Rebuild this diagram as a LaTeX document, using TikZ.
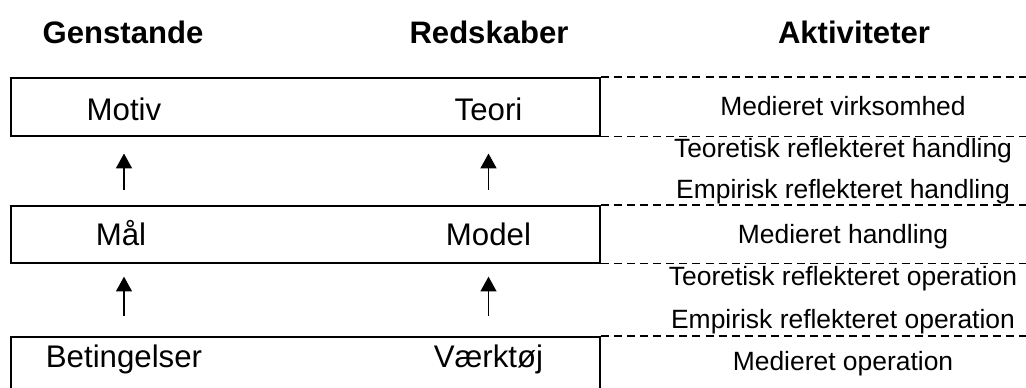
\documentclass[tikz,border=0pt]{standalone}
\usepackage{fontspec}
\setmainfont{Liberation Sans}
\usetikzlibrary{arrows.meta}
\tikzset{
	level/.style={draw, line width=1.2pt, minimum width=14.725cm, inner sep=0pt},
	sepline/.style={dash pattern=on 5.7pt off 3.6pt, line width=1.1pt},
	uparrow/.style={-{Triangle[width=0.4cm 0 0,length=0.37cm 0 0]}, line width=1pt},
	head/.style={anchor=base, font=\fontsize{22.1}{24}\selectfont\bfseries},
	item/.style={anchor=base, font=\fontsize{22.2}{24}\selectfont},
	act/.style={anchor=base, font=\fontsize{18.8}{20}\selectfont}
}

\begin{document}
\begin{tikzpicture}[x=0.025cm, y=-0.025cm]
	% 1 unit = 1 pixel of the 1026 x 388 frame
	\clip (0,0) rectangle (1026,388);
	
	% column headings
	\node[head] (genstande) at (123,43.5) {Genstande};
	\node[head] (redskaber) at (489,43.5) {Redskaber};
	\node[head] (aktiviteter) at (854,43.5) {Aktiviteter};
	
	% the three levels
	\node[level, minimum height=1.45cm] (upper) at (305.5,106.7) {};
	\node[level, minimum height=1.42cm] (mid) at (305.5,234.4) {};
	\node[level, minimum height=1.8cm] (lower) at (305.5,372.7) {};
	
	\node[item] (motiv) at (124,120) {Motiv};
	\node[item] (teori) at (488.5,120) {Teori};
	\node[item] (maal) at (121,245) {Mål};
	\node[item] (model) at (488.5,245) {Model};
	\node[item] (betingelser) at (124,367) {Betingelser};
	\node[item] (vaerktoej) at (488.5,367) {Værktøj};
	
	% arrows between the levels
	\draw[uparrow] ([yshift=0.375cm]mid.north -| motiv.center) -- ([yshift=-0.425cm]upper.south -| motiv.center);
	\draw[uparrow] ([yshift=0.375cm]mid.north -| teori.center) -- ([yshift=-0.425cm]upper.south -| teori.center);
	\draw[uparrow] ([yshift=0.5cm]lower.north -| motiv.center) -- ([yshift=-0.325cm]mid.south -| motiv.center);
	\draw[uparrow] ([yshift=0.5cm]lower.north -| model.center) -- ([yshift=-0.325cm]mid.south -| model.center);
	
	% dashed separators of the activity column
	\draw[sepline] (upper.north east) -- ++(426,0);
	\draw[sepline] (upper.south east) -- ++(426,0);
	\draw[sepline] (mid.north east) -- ++(426,0);
	\draw[sepline] (mid.south east) -- ++(426,0);
	\draw[sepline] (lower.north east) -- ++(426,0);
	
	% activities
	\node[act] (virksomhed) at (843,115) {Medieret virksomhed};
	\node[act] (teohandling) at (843,157) {Teoretisk reflekteret handling};
	\node[act] (emphandling) at (843,198.5) {Empirisk reflekteret handling};
	\node[act] (handling) at (843,243) {Medieret handling};
	\node[act] (teooperation) at (843,285) {Teoretisk reflekteret operation};
	\node[act] (empoperation) at (843,328) {Empirisk reflekteret operation};
	\node[act] (operation) at (843,370) {Medieret operation};
\end{tikzpicture}
\end{document}
